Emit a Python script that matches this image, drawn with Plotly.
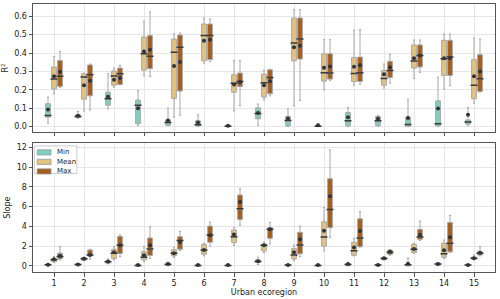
import plotly.graph_objects as go

regions = list(range(1, 16))
groups = ["Min", "Mean", "Max"]
colors = {"Min": "#7fcfc0", "Mean": "#e3c27f", "Max": "#a65d1c"}

# ---- R2 panel ----
r2_min_lo = [0.018, 0.045, 0.096, 0.004, 0.004, 0.0, 0.0, 0.007, 0.0, 0.0, 0.0, 0.0, 0.0, 0.0, 0.004]
r2_min_q1 = [0.051, 0.049, 0.116, 0.015, 0.007, 0.004, 0.001, 0.042, 0.004, 0.001, 0.004, 0.005, 0.0, 0.004, 0.013]
r2_min_med = [0.060, 0.055, 0.151, 0.116, 0.022, 0.009, 0.002, 0.071, 0.033, 0.002, 0.031, 0.031, 0.011, 0.015, 0.025]
r2_min_q3 = [0.124, 0.064, 0.187, 0.144, 0.036, 0.031, 0.004, 0.102, 0.055, 0.004, 0.076, 0.055, 0.051, 0.140, 0.036]
r2_min_hi = [0.160, 0.082, 0.287, 0.195, 0.100, 0.064, 0.006, 0.122, 0.096, 0.015, 0.104, 0.060, 0.149, 0.269, 0.104]
r2_min_mean = [0.093, 0.058, 0.162, 0.100, 0.033, 0.022, 0.004, 0.073, 0.044, 0.007, 0.051, 0.042, 0.047, 0.098, 0.064]

r2_mean_lo = [0.178, 0.085, 0.213, 0.276, 0.051, 0.345, 0.085, 0.145, 0.113, 0.200, 0.225, 0.209, 0.262, 0.204, 0.127]
r2_mean_q1 = [0.204, 0.149, 0.225, 0.307, 0.153, 0.358, 0.187, 0.160, 0.358, 0.247, 0.245, 0.225, 0.318, 0.278, 0.151]
r2_mean_med = [0.258, 0.270, 0.275, 0.396, 0.404, 0.495, 0.236, 0.238, 0.455, 0.293, 0.289, 0.262, 0.356, 0.369, 0.224]
r2_mean_q3 = [0.324, 0.287, 0.302, 0.487, 0.476, 0.558, 0.282, 0.285, 0.591, 0.396, 0.376, 0.305, 0.444, 0.469, 0.364]
r2_mean_hi = [0.382, 0.290, 0.318, 0.573, 0.505, 0.591, 0.360, 0.307, 0.636, 0.473, 0.524, 0.340, 0.471, 0.504, 0.482]
r2_mean_mean = [0.273, 0.225, 0.255, 0.409, 0.329, 0.467, 0.229, 0.225, 0.431, 0.320, 0.325, 0.284, 0.371, 0.371, 0.273]

r2_max_lo = [0.213, 0.090, 0.227, 0.273, 0.062, 0.353, 0.113, 0.167, 0.142, 0.249, 0.231, 0.236, 0.295, 0.222, 0.187]
r2_max_q1 = [0.218, 0.167, 0.229, 0.315, 0.193, 0.364, 0.218, 0.178, 0.367, 0.258, 0.245, 0.267, 0.324, 0.278, 0.191]
r2_max_med = [0.273, 0.282, 0.287, 0.382, 0.431, 0.495, 0.245, 0.267, 0.476, 0.291, 0.293, 0.305, 0.387, 0.378, 0.260]
r2_max_q3 = [0.360, 0.335, 0.318, 0.495, 0.498, 0.558, 0.291, 0.309, 0.591, 0.396, 0.378, 0.355, 0.444, 0.469, 0.391]
r2_max_hi = [0.409, 0.340, 0.333, 0.624, 0.509, 0.585, 0.360, 0.311, 0.636, 0.473, 0.527, 0.393, 0.471, 0.504, 0.476]
r2_max_mean = [0.298, 0.249, 0.264, 0.418, 0.351, 0.473, 0.242, 0.247, 0.440, 0.327, 0.333, 0.322, 0.387, 0.373, 0.300]

# ---- Slope panel ----
sl_min_lo = [0.0, 0.03, 0.2, 0.0, 0.0, 0.0, 0.0, 0.13, 0.0, 0.0, 0.0, 0.0, 0.0, 0.03, 0.0]
sl_min_q1 = [0.03, 0.05, 0.27, 0.01, 0.07, 0.01, 0.01, 0.34, 0.02, 0.02, 0.02, 0.02, 0.0, 0.07, 0.02]
sl_min_med = [0.10, 0.13, 0.40, 0.03, 0.13, 0.03, 0.04, 0.44, 0.07, 0.04, 0.13, 0.07, 0.10, 0.17, 0.07]
sl_min_q3 = [0.17, 0.20, 0.50, 0.10, 0.27, 0.10, 0.08, 0.60, 0.10, 0.10, 0.23, 0.13, 0.20, 0.27, 0.10]
sl_min_hi = [0.20, 0.23, 0.70, 0.13, 0.37, 0.13, 0.10, 0.87, 0.17, 0.13, 0.27, 0.17, 0.77, 0.30, 0.13]
sl_min_mean = [0.10, 0.13, 0.44, 0.07, 0.17, 0.07, 0.07, 0.47, 0.07, 0.07, 0.17, 0.08, 0.20, 0.17, 0.07]

sl_mean_lo = [0.34, 0.54, 0.60, 0.40, 0.84, 1.00, 2.08, 1.34, 0.54, 1.51, 1.00, 0.60, 1.27, 0.74, 0.60]
sl_mean_q1 = [0.40, 0.57, 0.74, 0.60, 1.00, 1.17, 2.35, 1.51, 0.70, 1.98, 1.07, 0.64, 1.34, 0.87, 0.67]
sl_mean_med = [0.60, 0.70, 1.27, 0.87, 1.27, 1.61, 2.95, 2.08, 1.10, 2.92, 1.51, 0.74, 1.68, 1.21, 0.77]
sl_mean_q3 = [0.74, 0.84, 1.68, 1.44, 1.64, 2.18, 3.62, 2.21, 1.74, 4.46, 2.38, 0.84, 2.18, 2.28, 0.87]
sl_mean_hi = [0.94, 0.87, 1.94, 1.94, 1.88, 2.28, 3.89, 2.41, 2.11, 5.90, 2.75, 0.87, 2.28, 2.61, 1.10]
sl_mean_mean = [0.67, 0.70, 1.37, 1.07, 1.27, 1.61, 3.18, 2.08, 1.37, 3.55, 1.84, 0.77, 1.71, 1.58, 0.77]

sl_max_lo = [0.60, 0.67, 0.94, 0.74, 1.54, 2.01, 4.09, 2.21, 0.94, 2.88, 1.88, 1.07, 2.55, 1.34, 1.00]
sl_max_q1 = [0.70, 1.00, 1.24, 1.04, 1.68, 2.38, 4.69, 2.78, 1.21, 3.86, 1.94, 1.14, 2.68, 1.41, 1.10]
sl_max_med = [0.94, 1.10, 2.08, 1.71, 2.55, 3.12, 5.77, 3.69, 2.11, 5.70, 2.82, 1.37, 2.92, 2.28, 1.27]
sl_max_q3 = [1.27, 1.60, 2.98, 2.82, 2.95, 4.02, 7.17, 3.86, 3.39, 8.82, 4.76, 1.58, 3.69, 4.39, 1.44]
sl_max_hi = [1.94, 1.68, 3.12, 3.96, 3.49, 4.43, 7.81, 4.39, 4.02, 11.73, 5.50, 1.64, 4.53, 5.10, 1.94]
sl_max_mean = [1.00, 1.10, 2.08, 2.08, 2.41, 3.08, 6.47, 3.69, 2.68, 7.04, 3.52, 1.41, 3.12, 2.88, 1.31]

panels = [
    ("x", "y", {
        "Min": (r2_min_lo, r2_min_q1, r2_min_med, r2_min_q3, r2_min_hi, r2_min_mean),
        "Mean": (r2_mean_lo, r2_mean_q1, r2_mean_med, r2_mean_q3, r2_mean_hi, r2_mean_mean),
        "Max": (r2_max_lo, r2_max_q1, r2_max_med, r2_max_q3, r2_max_hi, r2_max_mean),
    }),
    ("x2", "y2", {
        "Min": (sl_min_lo, sl_min_q1, sl_min_med, sl_min_q3, sl_min_hi, sl_min_mean),
        "Mean": (sl_mean_lo, sl_mean_q1, sl_mean_med, sl_mean_q3, sl_mean_hi, sl_mean_mean),
        "Max": (sl_max_lo, sl_max_q1, sl_max_med, sl_max_q3, sl_max_hi, sl_max_mean),
    }),
]

FONT = "DejaVu Sans"
TXT = "#222222"
fig = go.Figure()

for pi, (xa, ya, stats) in enumerate(panels):
    for g in groups:
        lo, q1, med, q3, hi, mn = stats[g]
        fig.add_trace(go.Box(
            x=regions, lowerfence=lo, q1=q1, median=med, q3=q3, upperfence=hi,
            name=g, legendgroup=g, offsetgroup=g, showlegend=False,
            fillcolor=colors[g], line=dict(color="#a8a8a8", width=1),
            whiskerwidth=0.45, xaxis=xa, yaxis=ya, hoverinfo="skip",
        ))
    for g in groups:
        lo, q1, med, q3, hi, mn = stats[g]
        fig.add_trace(go.Scatter(
            x=regions, y=med, mode="markers", offsetgroup=g, showlegend=False,
            marker=dict(symbol="line-ew", size=5, line=dict(color="#3a3a3a", width=1.5)),
            xaxis=xa, yaxis=ya, hoverinfo="skip",
        ))
    for g in groups:
        lo, q1, med, q3, hi, mn = stats[g]
        fig.add_trace(go.Scatter(
            x=regions, y=mn, mode="markers", offsetgroup=g, showlegend=False,
            marker=dict(symbol="circle", size=4, color="#333333"),
            xaxis=xa, yaxis=ya, hoverinfo="skip",
        ))

axis_common = dict(
    showline=True, linecolor="#555555", linewidth=1, mirror=True,
    ticks="outside", ticklen=3.5, tickcolor="#555555", tickwidth=1,
    showgrid=True, gridcolor="#e6e6e6", gridwidth=0.8, zeroline=False,
    tickfont=dict(family=FONT, size=8, color=TXT), automargin=False,
)

# compact legend (box + swatches + labels) in the lower panel's top-left corner
shapes = [dict(type="rect", xref="x2 domain", yref="y2 domain",
               x0=0.003, x1=0.095, y0=0.765, y1=0.98,
               line=dict(color="#cccccc", width=1), fillcolor="rgba(255,255,255,0.9)", layer="above")]
annotations = []
leg_y = [0.93, 0.856, 0.782]
for g, yc in zip(groups, leg_y):
    shapes.append(dict(type="rect", xref="x2 domain", yref="y2 domain",
                       x0=0.009, x1=0.039, y0=yc - 0.02, y1=yc + 0.02,
                       line=dict(color="#999999", width=0.8), fillcolor=colors[g], layer="above"))
    annotations.append(dict(text=g, xref="x2 domain", yref="y2 domain", x=0.047, y=yc,
                            xanchor="left", yanchor="middle", showarrow=False,
                            font=dict(family=FONT, size=7, color=TXT)))

fig.update_layout(
    width=500, height=299,
    margin=dict(l=33, r=5, t=4, b=27),
    paper_bgcolor="white", plot_bgcolor="white",
    boxmode="group", boxgap=0.4, boxgroupgap=0.2,
    scattermode="group", scattergap=0.4,
    showlegend=False,
    font=dict(family=FONT, size=8, color=TXT),
    shapes=shapes, annotations=annotations,
    xaxis=dict(axis_common, domain=[0, 1], range=[0.3, 15.7], tickvals=regions,
               showticklabels=False, anchor="y"),
    xaxis2=dict(axis_common, domain=[0, 1], range=[0.3, 15.7], tickvals=regions,
                matches="x", anchor="y2",
                title=dict(text="Urban ecoregion", standoff=1,
                           font=dict(family=FONT, size=8, color=TXT))),
    yaxis=dict(axis_common, domain=[0.523, 1], range=[-0.029, 0.667],
               tickvals=[0, 0.1, 0.2, 0.3, 0.4, 0.5, 0.6], tickformat=".1f", anchor="x",
               title=dict(text="R<sup>2</sup>", standoff=4,
                          font=dict(family=FONT, size=8, color=TXT))),
    yaxis2=dict(axis_common, domain=[0, 0.48], range=[-0.63, 12.4],
                tickvals=[0, 2, 4, 6, 8, 10, 12], anchor="x2",
                title=dict(text="Slope", standoff=4,
                           font=dict(family=FONT, size=8, color=TXT))),
)

fig.write_html("out.html", config={"displayModeBar": False},
               post_script="document.body.style.margin='0';document.body.style.overflow='hidden';")
